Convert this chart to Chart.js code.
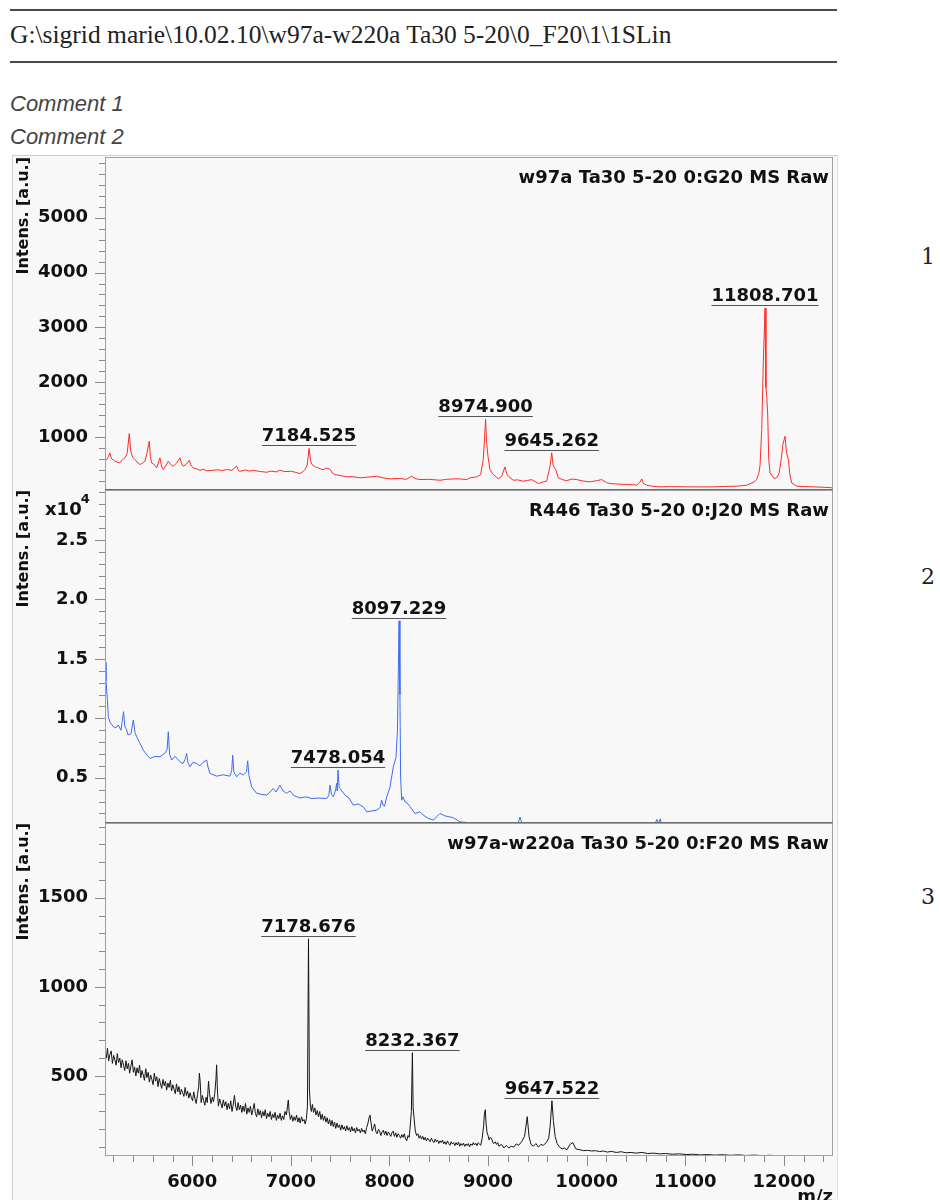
<!DOCTYPE html>
<html>
<head>
<meta charset="utf-8">
<script src="https://cdn.jsdelivr.net/npm/chart.js@4.4.1/dist/chart.umd.min.js"></script>
<style>
  html, body { margin: 0; padding: 0; background: #fff; }
  body { width: 940px; height: 1200px; position: relative; overflow: hidden; }
  .rule { position: absolute; left: 10px; width: 827px; height: 2px; background: #4a4a4a; }
  #path { position: absolute; left: 10px; top: 22px; font: 25.5px/25.5px "Liberation Serif", "Times New Roman", serif; color: #222; white-space: nowrap; }
  .cmt { position: absolute; left: 10px; font: italic 22px/22px "Liberation Sans", Arial, sans-serif; color: #444; white-space: nowrap; }
  .num { position: absolute; left: 921px; font: 22px/22px "DejaVu Serif", serif; color: #222; }
  #frame { position: absolute; left: 12px; top: 155px; width: 826px; height: 1045px; box-sizing: border-box;
           background: #f8f8f8; border-left: 1px solid #cfcfcf; border-top: 1px solid #cfcfcf; border-right: 1px solid #dedede; }
  #spectra { position: absolute; left: 12px; top: 155px; }
</style>
</head>
<body>
<div class="rule" style="top:9px"></div>
<div id="path">G:\sigrid marie\10.02.10\w97a-w220a Ta30 5-20\0_F20\1\1SLin</div>
<div class="rule" style="top:61px"></div>
<div class="cmt" style="top:93px">Comment 1</div>
<div class="cmt" style="top:126px">Comment 2</div>
<div class="num" style="top:246px">1</div>
<div class="num" style="top:566px">2</div>
<div class="num" style="top:886px">3</div>
<div id="frame"></div>
<canvas id="spectra" width="826" height="1045"></canvas>

<script>
// ---- spectra: [m/z, intensity (a.u.)] ----
const spectrumW97a = [
  [5115,560],[5132,586],[5150,640],[5165,708],[5180,600],[5200,580],[5216,555],[5240,540],[5265,525],[5290,580],
  [5316,617],[5340,700],[5361,1060],[5375,760],[5385,677],[5400,620],[5419,586],[5440,540],[5470,495],[5495,520],
  [5519,555],[5540,700],[5564,920],[5575,640],[5588,525],[5610,500],[5639,434],[5655,520],[5672,617],[5690,450],
  [5706,403],[5730,470],[5757,555],[5780,500],[5807,464],[5840,520],[5875,617],[5890,520],[5909,464],[5940,500],
  [5970,573],[5990,470],[6010,434],[6040,420],[6078,390],[6110,410],[6150,380],[6213,390],[6260,400],[6300,385],
  [6349,403],[6400,390],[6450,464],[6470,380],[6484,372],[6540,395],[6580,375],[6619,390],[6680,370],[6755,354],
  [6800,375],[6850,360],[6889,390],[6940,365],[7008,372],[7050,350],[7092,330],[7120,360],[7143,403],[7165,480],
  [7184.525,790],[7200,560],[7215,495],[7240,460],[7262,440],[7278,434],[7300,415],[7329,403],[7360,430],[7397,410],
  [7420,340],[7447,312],[7500,295],[7566,270],[7620,275],[7701,252],[7780,265],[7870,281],[7940,250],[8005,233],
  [8100,240],[8170,225],[8225,281],[8260,240],[8309,220],[8400,225],[8512,208],[8580,225],[8647,233],[8715,233],
  [8783,220],[8815,252],[8884,270],[8925,312],[8951,586],[8965,1000],[8974.900,1320],[8985,900],[8999,646],[9019,403],
  [9053,312],[9104,233],[9138,281],[9171,452],[9190,320],[9205,281],[9256,208],[9300,215],[9357,190],[9400,205],
  [9442,220],[9509,148],[9560,180],[9594,190],[9628,464],[9645.262,710],[9660,480],[9686,403],[9712,252],[9760,215],
  [9797,201],[9850,230],[9899,220],[9960,195],[10034,178],[10100,200],[10152,220],[10200,165],[10236,148],[10300,140],
  [10406,130],[10480,125],[10507,117],[10540,170],[10558,233],[10575,150],[10608,117],[10680,95],[10743,88],[10850,92],
  [11014,88],[11150,86],[11284,88],[11400,95],[11521,100],[11623,117],[11700,180],[11724,220],[11745,330],[11758,476],
  [11775,1133],[11792,2400],[11808.701,3350],[11818,1900],[11826,1740],[11836,1400],[11846,600],[11860,340],[11877,300],[11900,240],
  [11927,252],[11950,330],[11968,525],[11990,860],[12011,1010],[12028,700],[12045,586],[12062,300],[12079,160],[12130,100],
  [12200,92],[12298,88],[12400,80],[12500,70]
];

const spectrumR446 = [
  [5115,14700],[5125,13200],[5140,11500],[5148,10140],[5165,9700],[5199,9300],[5226,9200],[5250,9440],[5277,9000],[5303,10560],
  [5317,9300],[5335,9020],[5348,8600],[5378,8700],[5402,9860],[5420,8800],[5436,8450],[5470,7900],[5503,7330],[5541,6900],
  [5571,6630],[5622,6800],[5673,6770],[5723,7080],[5745,7400],[5757,8870],[5770,7000],[5791,6490],[5825,6800],[5875,6350],
  [5906,6200],[5930,6600],[5943,7050],[5955,6300],[5977,5930],[6007,6300],[6045,6210],[6078,6000],[6109,6300],[6146,6490],
  [6160,5900],[6180,5370],[6247,5140],[6311,5250],[6382,5140],[6400,5600],[6410,6910],[6422,5500],[6450,5080],[6484,5400],
  [6517,5230],[6550,5500],[6562,6430],[6575,5200],[6602,4240],[6653,3700],[6707,3600],[6755,3550],[6788,3800],[6822,4100],
  [6849,3800],[6889,4390],[6920,3900],[6957,3690],[6991,3900],[7024,3540],[7092,3300],[7153,3400],[7214,3250],[7275,3300],
  [7363,3260],[7385,3500],[7397,4390],[7412,3600],[7430,3400],[7452,3900],[7464,4530],[7470,3900],[7478.054,5650],[7490,4200],
  [7508,4000],[7549,3540],[7589,3300],[7633,2700],[7681,2800],[7734,2560],[7769,2140],[7812,2200],[7870,2280],[7905,2500],
  [7921,3120],[7935,2700],[7950,2600],[7972,3400],[8005,4200],[8039,5930],[8066,6700],[8081,9000],[8097.229,18200],[8106,12000],
  [8113,5000],[8124,3120],[8137,3400],[8158,2980],[8178,2900],[8209,2560],[8259,2000],[8310,2140],[8343,1860],[8391,1600],
  [8445,1440],[8512,2000],[8563,1800],[8644,1650],[8715,1300],[8776,1250],[8867,1050],[8950,950],[9050,900],[9150,880],
  [9250,900],[9300,1100],[9324,1700],[9345,1150],[9400,900],[9550,880],[9700,860],[9900,850],[10100,830],[10300,820],
  [10500,800],[10650,820],[10690,1100],[10712,1500],[10728,1100],[10745,1550],[10765,1000],[10850,780],[11100,760],[11400,740],
  [11700,730],[12000,720],[12300,710],[12500,700]
];

const spectrumW97aW220a = [
  [5115,640],[5128,600],[5140,655],[5152,585],[5165,620],[5178,640],[5190,570],[5203,615],[5215,590],[5228,560],
  [5240,625],[5252,575],[5265,600],[5278,545],[5290,590],[5303,560],[5315,530],[5328,585],[5340,540],[5353,570],
  [5365,515],[5378,555],[5390,590],[5403,520],[5415,550],[5428,500],[5440,545],[5453,515],[5465,560],[5478,490],
  [5490,530],[5503,505],[5515,475],[5528,540],[5540,490],[5553,520],[5565,465],[5578,505],[5590,480],[5603,450],
  [5615,515],[5628,470],[5640,495],[5653,440],[5665,485],[5678,455],[5690,430],[5703,480],[5715,445],[5728,470],
  [5740,420],[5753,460],[5765,435],[5778,475],[5790,415],[5803,450],[5815,425],[5828,400],[5840,455],[5853,410],
  [5865,440],[5878,395],[5890,425],[5903,405],[5915,385],[5928,435],[5940,390],[5953,415],[5965,375],[5978,405],
  [5990,380],[6003,360],[6015,410],[6028,370],[6040,345],[6053,395],[6065,440],[6072,515],[6080,470],[6090,350],
  [6103,390],[6115,360],[6128,335],[6140,380],[6152,350],[6165,470],[6175,400],[6190,345],[6203,380],[6215,355],
  [6228,400],[6240,480],[6247,562],[6255,420],[6265,330],[6278,370],[6290,345],[6303,320],[6315,365],[6328,330],
  [6340,355],[6353,310],[6365,345],[6378,315],[6390,360],[6403,300],[6415,335],[6428,390],[6440,330],[6453,305],
  [6465,350],[6478,310],[6490,335],[6503,295],[6515,330],[6528,300],[6540,345],[6553,285],[6565,320],[6578,295],
  [6590,330],[6603,280],[6615,310],[6628,345],[6640,290],[6653,270],[6665,315],[6678,280],[6690,305],[6703,265],
  [6715,300],[6728,275],[6740,310],[6753,260],[6765,290],[6778,270],[6790,300],[6803,255],[6815,285],[6828,265],
  [6840,295],[6853,250],[6865,280],[6878,260],[6890,290],[6903,250],[6915,275],[6928,255],[6940,300],[6955,280],
  [6966,330],[6974,365],[6982,300],[6995,255],[7008,280],[7020,245],[7033,270],[7045,250],[7058,280],[7070,240],
  [7083,265],[7095,235],[7108,270],[7120,245],[7133,255],[7145,230],[7158,260],[7168,330],[7178.676,1270],[7188,420],
  [7198,330],[7208,300],[7218,340],[7230,295],[7243,320],[7255,280],[7268,305],[7280,270],[7293,300],[7305,255],
  [7318,285],[7330,250],[7343,275],[7355,240],[7368,265],[7380,230],[7393,255],[7405,220],[7418,250],[7430,215],
  [7443,240],[7455,205],[7468,235],[7480,210],[7493,225],[7505,195],[7518,225],[7530,200],[7543,215],[7555,190],
  [7568,220],[7580,195],[7593,210],[7605,185],[7618,215],[7630,190],[7643,205],[7655,180],[7668,210],[7680,190],
  [7693,200],[7705,180],[7718,205],[7730,185],[7743,195],[7755,175],[7768,210],[7780,230],[7795,270],[7802,280],
  [7812,240],[7825,190],[7838,210],[7850,230],[7863,185],[7875,175],[7888,200],[7900,190],[7913,165],[7925,185],
  [7938,195],[7950,170],[7963,190],[7975,165],[7988,185],[8000,175],[8013,160],[8025,180],[8038,190],[8050,160],
  [8063,180],[8075,155],[8088,175],[8100,165],[8113,150],[8125,170],[8138,155],[8150,175],[8163,145],[8175,135],
  [8188,165],[8200,155],[8212,230],[8222,300],[8232.367,630],[8240,320],[8250,260],[8262,190],[8275,165],[8288,175],
  [8300,150],[8313,165],[8325,145],[8338,160],[8350,140],[8363,155],[8375,135],[8388,150],[8400,140],[8413,130],
  [8425,150],[8438,135],[8450,125],[8463,145],[8475,130],[8488,140],[8500,120],[8513,135],[8525,125],[8538,140],
  [8550,118],[8563,130],[8575,115],[8588,135],[8600,120],[8613,110],[8625,130],[8638,118],[8650,125],[8663,108],
  [8675,125],[8688,112],[8700,128],[8713,105],[8725,120],[8738,110],[8750,122],[8763,104],[8775,118],[8788,108],
  [8800,120],[8813,102],[8825,118],[8838,110],[8850,125],[8863,112],[8875,122],[8888,108],[8900,125],[8913,118],
  [8925,110],[8940,150],[8955,220],[8963,290],[8972,310],[8980,230],[8990,180],[9000,165],[9010,140],[9022,155],
  [9035,150],[9048,125],[9060,120],[9073,130],[9085,115],[9098,125],[9110,105],[9135,115],[9160,95],[9185,110],
  [9210,95],[9235,105],[9260,100],[9285,118],[9310,110],[9340,130],[9370,160],[9397,271],[9415,160],[9435,115],
  [9460,105],[9485,120],[9510,100],[9535,115],[9560,110],[9590,125],[9615,150],[9630,220],[9647.522,360],[9662,250],
  [9680,160],[9700,120],[9725,100],[9750,90],[9775,95],[9800,85],[9830,115],[9860,125],[9890,90],[9930,85],
  [9970,80],[10010,82],[10050,78],[10090,80],[10130,75],[10170,78],[10210,72],[10250,76],[10300,70],[10350,74],
  [10400,68],[10450,70],[10500,66],[10560,70],[10620,64],[10680,66],[10740,62],[10800,64],[10870,60],[10940,62],
  [11010,58],[11080,60],[11150,56],[11220,58],[11300,55],[11380,57],[11460,54],[11540,56],[11620,53],[11700,55],
  [11780,52],[11860,54],[11940,51],[12020,53],[12100,50],[12180,52],[12260,49],[12340,51],[12420,48],[12500,50]
];

// labelled peaks (m/z)
const peaksW97a = [7184.525, 8974.900, 9645.262, 11808.701];
const peaksR446 = [7478.054, 8097.229];
const peaksW97aW220a = [7178.676, 8232.367, 9647.522];

// spectrum names
const titles = ['w97a Ta30 5-20 0:G20 MS Raw', 'R446 Ta30 5-20 0:J20 MS Raw', 'w97a-w220a Ta30 5-20 0:F20 MS Raw'];

// axis ticks
const mzTicks = [6000, 7000, 8000, 9000, 10000, 11000, 12000];
const yTicksW97a = [1000, 2000, 3000, 4000, 5000];
const yTicksR446 = [5000, 10000, 15000, 20000, 25000];
const yTicksW97aW220a = [500, 1000, 1500];

const FONT = '"DejaVu Sans", "Liberation Sans", Arial, sans-serif';

const panels = [
  { axis: 'y1', data: spectrumW97a, peaks: peaksW97a, title: titles[0], ticks: yTicksW97a,
    min: 30, max: 6110, minor: 200, color: '#ff2a2a', fmt: v => String(v) },
  { axis: 'y2', data: spectrumR446, peaks: peaksR446, title: titles[1], ticks: yTicksR446,
    min: 1200, max: 29200, minor: 1000, color: '#3f6cf0', fmt: v => (v / 10000).toFixed(1), exponent: '4' },
  { axis: 'y3', data: spectrumW97aW220a, peaks: peaksW97aW220a, title: titles[2], ticks: yTicksW97aW220a,
    min: 50, max: 1920, minor: 100, color: '#151515', fmt: v => String(v) }
];

function yAxis(p, weight) {
  return {
    type: 'linear', position: 'left', stack: 'spectra', stackWeight: 1, weight,
    min: p.min, max: p.max,
    grid: { display: false, drawTicks: false },
    border: { display: false },
    afterBuildTicks: s => { s.ticks = p.ticks.map(v => ({ value: v })); },
    afterFit: s => { s.width = 93; s.paddingTop = 0; s.paddingBottom = 0; },
    ticks: { padding: 17, color: '#111', font: { family: FONT, weight: 'bold', size: 18 }, callback: p.fmt },
    title: { display: true, text: 'Intens. [a.u.]', align: 'end', color: '#111',
             font: { family: FONT, weight: 'bold', size: 16 }, padding: { top: 2, bottom: 0 } }
  };
}

// frames, minor ticks, peak labels and spectrum names
const msDecor = {
  id: 'msDecor',
  afterDatasetsDraw(chart) {
    const { ctx, scales } = chart;
    const x = scales.x;
    ctx.save();
    ctx.lineWidth = 1;

    panels.forEach((p, i) => {
      const y = scales[p.axis];
      // panel frame
      ctx.strokeStyle = '#a0a0a0';
      ctx.strokeRect(x.left + 0.5, y.top + 0.5, x.right - x.left - 1, y.bottom - y.top - 1);
      if (i < panels.length - 1) {
        ctx.strokeStyle = '#6e6e6e';
        ctx.lineWidth = 2;
        ctx.beginPath(); ctx.moveTo(x.left, y.bottom); ctx.lineTo(x.right, y.bottom); ctx.stroke();
        ctx.lineWidth = 1;
      }
      // y tick marks
      ctx.strokeStyle = '#8a8a8a';
      ctx.beginPath();
      for (let v = Math.ceil(y.min / p.minor) * p.minor; v <= y.max; v += p.minor) {
        const py = Math.round(y.getPixelForValue(v)) + 0.5;
        const len = p.ticks.includes(v) ? 10 : 6;
        ctx.moveTo(x.left - len, py); ctx.lineTo(x.left, py);
      }
      ctx.stroke();

      // spectrum name
      ctx.fillStyle = '#111';
      ctx.font = 'bold 18px ' + FONT;
      ctx.textAlign = 'right';
      ctx.textBaseline = 'alphabetic';
      ctx.fillText(p.title, x.right - 4, y.top + 26);

      // exponent of the intensity axis
      if (p.exponent) {
        ctx.textAlign = 'left';
        const lx = x.left - 60;
        ctx.fillText('x10', lx, y.top + 25);
        const w = ctx.measureText('x10').width;
        ctx.font = 'bold 13px ' + FONT;
        ctx.fillText(p.exponent, lx + w - 1, y.top + 13);
      }

      // peak labels
      ctx.font = 'bold 18px ' + FONT;
      ctx.textAlign = 'center';
      p.peaks.forEach(mz => {
        const pt = p.data.find(d => d[0] === mz);
        const px = x.getPixelForValue(mz);
        const py = y.getPixelForValue(pt[1]);
        const label = mz.toFixed(3);
        const w = ctx.measureText(label).width;
        ctx.fillStyle = '#111';
        ctx.fillText(label, px, py - 7);
        ctx.strokeStyle = '#555';
        ctx.beginPath();
        ctx.moveTo(px - w / 2, Math.round(py - 3) + 0.5);
        ctx.lineTo(px + w / 2, Math.round(py - 3) + 0.5);
        ctx.stroke();
      });
    });

    // m/z tick marks
    ctx.strokeStyle = '#8a8a8a';
    ctx.beginPath();
    for (let v = Math.ceil(x.min / 200) * 200; v <= x.max; v += 200) {
      const px = Math.round(x.getPixelForValue(v)) + 0.5;
      const len = v % 1000 === 0 ? 10 : 6;
      ctx.moveTo(px, x.top); ctx.lineTo(px, x.top + len);
    }
    ctx.stroke();
    ctx.restore();
  }
};

new Chart(document.getElementById('spectra'), {
  type: 'line',
  data: {
    datasets: panels.map(p => ({
      data: p.data.map(d => ({ x: d[0], y: d[1] })),
      yAxisID: p.axis,
      xAxisID: 'x',
      borderColor: p.color,
      borderWidth: 1,
      pointRadius: 0,
      tension: 0,
      fill: false
    }))
  },
  options: {
    responsive: false,
    animation: false,
    events: [],
    layout: { padding: { top: 2, right: 5, bottom: 0, left: 0 } },
    plugins: { legend: { display: false }, tooltip: { enabled: false } },
    scales: {
      x: {
        type: 'linear', position: 'bottom', min: 5115, max: 12498,
        grid: { display: false, drawTicks: false },
        border: { display: false },
        afterBuildTicks: s => { s.ticks = mzTicks.map(v => ({ value: v })); },
        afterFit: s => { s.height = 44; s.paddingLeft = 0; s.paddingRight = 0; },
        ticks: { padding: 16, maxRotation: 0, autoSkip: false, color: '#111',
                 font: { family: FONT, weight: 'bold', size: 18 }, callback: v => String(v) },
        title: { display: true, text: 'm/z', align: 'end', color: '#111',
                 font: { family: FONT, weight: 'bold', size: 18 }, padding: { top: 0, bottom: -8 } }
      },
      y1: yAxis(panels[0], 3),
      y2: yAxis(panels[1], 2),
      y3: yAxis(panels[2], 1)
    }
  },
  plugins: [msDecor]
});
</script>
</body>
</html>
